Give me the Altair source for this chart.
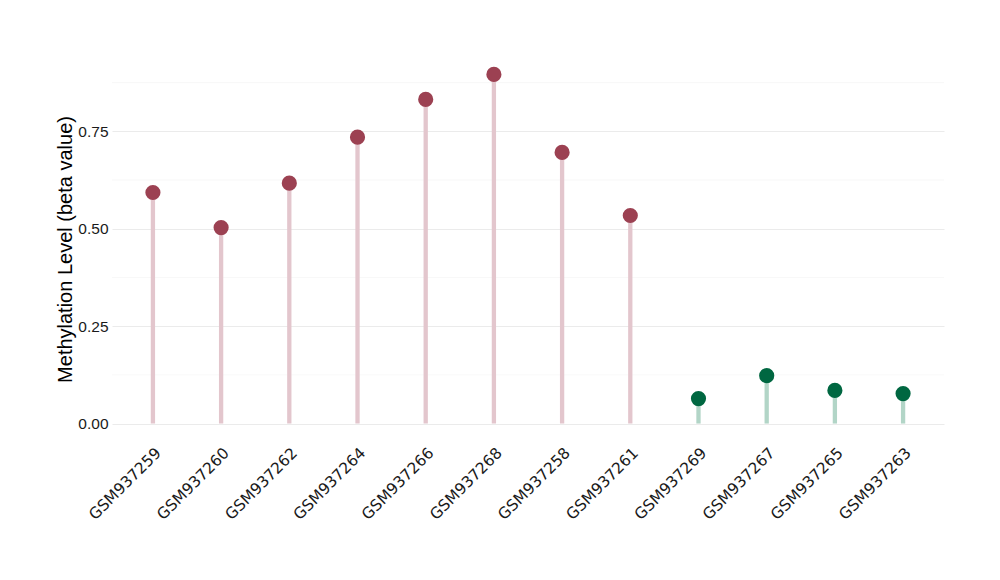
import altair as alt
import pandas as pd

samples = ["GSM937259", "GSM937260", "GSM937262", "GSM937264", "GSM937266", "GSM937268",
           "GSM937258", "GSM937261", "GSM937269", "GSM937267", "GSM937265", "GSM937263"]
values = [0.593, 0.503, 0.617, 0.735, 0.832, 0.896, 0.696, 0.534, 0.064, 0.123, 0.085, 0.077]
groups = ["high"] * 8 + ["low"] * 4

major_ticks = [0.0, 0.25, 0.5, 0.75]
minor_ticks = [0.125, 0.375, 0.625, 0.875]

df = pd.DataFrame({"sample": samples, "value": values, "group": groups, "zero": [0.0] * len(samples)})
minor_df = pd.DataFrame({"v": minor_ticks})

y_scale = alt.Scale(domain=[-0.0448, 0.9408], nice=False, zero=False)
x_scale = alt.Scale(type="point", padding=0.6)

x_enc = alt.X("sample:N", sort=samples, scale=x_scale,
              axis=alt.Axis(title=None, labelAngle=-45, labelAlign="right", labelBaseline="top",
                            labelFont="DejaVu Sans", labelFontSize=15.5, labelColor="#1a1a1a",
                            labelPadding=4, ticks=False, domain=False, grid=False))

minor = alt.Chart(minor_df).mark_rule(color="#F4F4F4", strokeWidth=0.6).encode(
    y=alt.Y("v:Q", scale=y_scale),
    x=alt.value(0), x2=alt.value(832))

stems = alt.Chart(df).mark_rule(strokeWidth=4.3).encode(
    x=x_enc,
    y=alt.Y("value:Q", scale=y_scale,
            axis=alt.Axis(title="Methylation Level (beta value)", values=major_ticks, format=".2f",
                          labelFont="Liberation Sans", labelFontSize=15.5, labelColor="#1a1a1a",
                          labelPadding=4, ticks=False, domain=False,
                          grid=True, gridColor="#EBEBEB", gridWidth=1,
                          titleFont="Liberation Sans", titleFontSize=20, titleFontWeight="normal",
                          titleColor="#000000", titlePadding=2)),
    y2="zero:Q",
    color=alt.Color("group:N", scale=alt.Scale(domain=["high", "low"], range=["#E3C6CD", "#B2D5C7"]),
                    legend=None))

dots = alt.Chart(df).mark_circle(size=230, opacity=1).encode(
    x=alt.X("sample:N", sort=samples, scale=x_scale),
    y=alt.Y("value:Q", scale=y_scale),
    fill=alt.Fill("group:N", scale=alt.Scale(domain=["high", "low"], range=["#9C4152", "#006741"]),
                  legend=None))

chart = alt.layer(minor, stems, dots).resolve_scale(color="independent").properties(
    width=832, height=384,
    autosize=alt.AutoSizeParams(type="none"),
    padding={"left": 104, "top": 49, "right": 40, "bottom": 100},
    background="white",
).configure_view(stroke=None)

chart.save("out.html", embed_options={"renderer": "svg", "actions": False})
